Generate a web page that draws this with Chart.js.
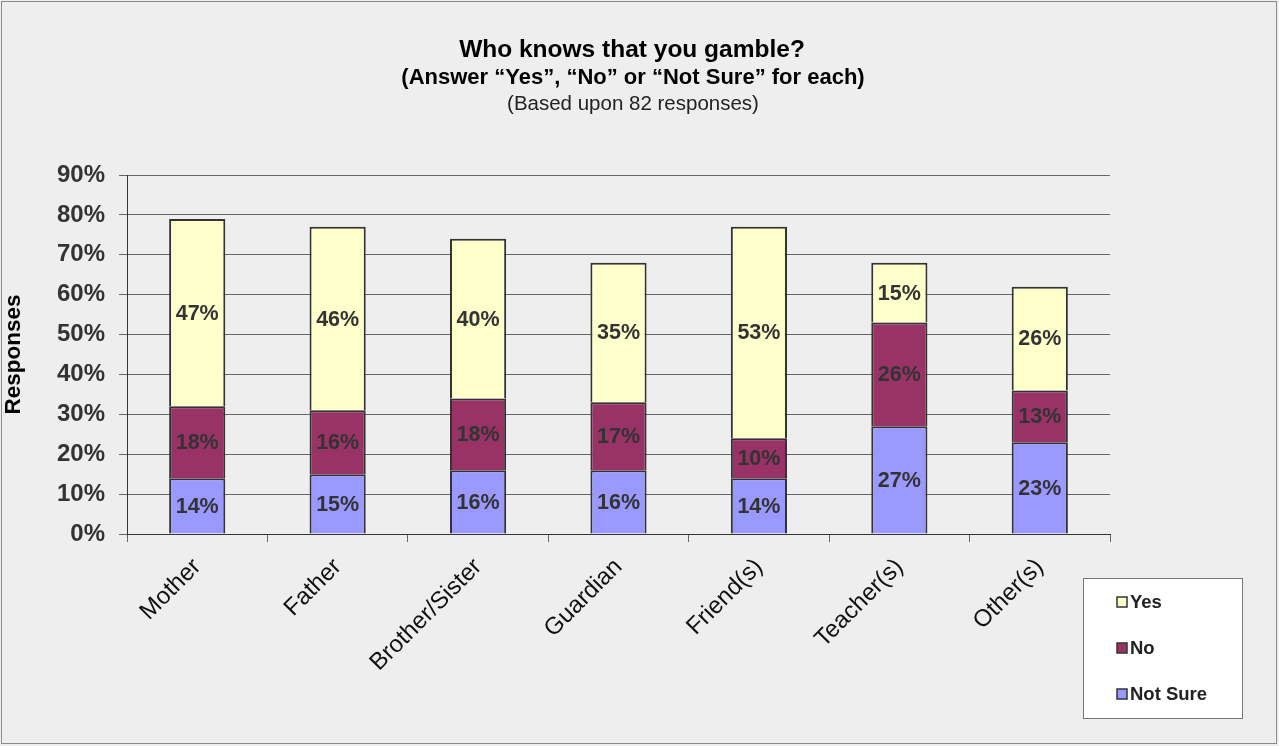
<!DOCTYPE html>
<html>
<head>
<meta charset="utf-8">
<script src="https://cdn.jsdelivr.net/npm/chart.js@4"></script>
<style>
  html, body { margin: 0; padding: 0; background: #eeeeee; }
  #wrap { width: 1279px; height: 746px; position: relative; }
</style>
</head>
<body>
<div id="wrap"><canvas id="chart" width="1279" height="746"></canvas></div>
<script>
// data
const categories = ['Mother', 'Father', 'Brother/Sister', 'Guardian', 'Friend(s)', 'Teacher(s)', 'Other(s)'];
const notSure = [14, 15, 16, 16, 14, 27, 23];
const no      = [18, 16, 18, 17, 10, 26, 13];
const yes     = [47, 46, 40, 35, 53, 15, 26];
const titleLines = ['Who knows that you gamble?', '(Answer \u201cYes\u201d, \u201cNo\u201d or \u201cNot Sure\u201d for each)'];
const subTitle = '(Based upon 82 responses)';

const FONT = '"Liberation Sans", Arial, sans-serif';

// background, frame, titles, bar labels, legend box
const decor = {
  id: 'decor',
  beforeDraw(chart) {
    const c = chart.ctx;
    c.save();
    c.fillStyle = '#eeeeee';
    c.fillRect(0, 0, chart.width, chart.height);
    c.strokeStyle = '#8c8c8c';
    c.lineWidth = 1;
    c.strokeRect(1.5, 1.5, chart.width - 4, chart.height - 4);
    c.restore();
  },
  afterDraw(chart) {
    const c = chart.ctx;
    c.save();
    c.textAlign = 'center';
    c.textBaseline = 'middle';
    c.fillStyle = '#000';
    c.font = 'bold 24.5px ' + FONT;
    c.fillText(titleLines[0], 632, 50);
    c.font = 'bold 22px ' + FONT;
    c.fillText(titleLines[1], 633, 78);
    c.font = '20.5px ' + FONT;
    c.fillStyle = '#222';
    c.fillText(subTitle, 633, 104);

    // value labels centred in each segment
    c.font = 'bold 21.5px ' + FONT;
    c.fillStyle = '#333';
    chart.data.datasets.forEach((ds, i) => {
      chart.getDatasetMeta(i).data.forEach((bar, j) => {
        c.fillText(ds.data[j] + '%', bar.x, (bar.y + bar.base) / 2 + 1);
      });
    });

    // legend
    const lx = 1083, ly = 578, lw = 159, lh = 140;
    c.fillStyle = '#ffffff';
    c.fillRect(lx, ly, lw, lh);
    c.strokeStyle = '#777';
    c.lineWidth = 1;
    c.strokeRect(lx + 0.5, ly + 0.5, lw, lh);
    const order = chart.data.datasets.slice().reverse();
    c.textAlign = 'left';
    c.font = 'bold 18.5px ' + FONT;
    order.forEach((ds, k) => {
      const y = 602 + k * 46;
      c.fillStyle = ds.backgroundColor;
      c.fillRect(1117, y - 5, 10, 10);
      c.strokeStyle = '#333';
      c.lineWidth = 1.5;
      c.strokeRect(1117, y - 5, 10, 10);
      c.fillStyle = '#222';
      c.fillText(ds.label, 1130, y + 1);
    });
    c.restore();
  }
};

new Chart(document.getElementById('chart'), {
  type: 'bar',
  data: {
    labels: categories,
    datasets: [
      { label: 'Not Sure', data: notSure, backgroundColor: '#9999ff' },
      { label: 'No', data: no, backgroundColor: '#993366' },
      { label: 'Yes', data: yes, backgroundColor: '#ffffcc' }
    ]
  },
  options: {
    responsive: false,
    animation: false,
    events: [],
    layout: { padding: { top: 175, right: 169, bottom: 0, left: 0 } },
    datasets: {
      bar: { barPercentage: 0.4, categoryPercentage: 1, borderColor: '#333', borderWidth: 2 }
    },
    plugins: {
      legend: { display: false },
      title: { display: false },
      tooltip: { enabled: false }
    },
    scales: {
      x: {
        stacked: true,
        afterFit(s) { s.height = 212; },
        grid: { offset: true, drawOnChartArea: false, drawTicks: true, tickLength: 8, color: '#666' },
        border: { color: '#333', width: 1 },
        ticks: { autoSkip: false, minRotation: 45, maxRotation: 45, padding: 11, color: '#111', font: { family: FONT, size: 24 } }
      },
      y: {
        stacked: true,
        min: 0,
        max: 90,
        afterFit(s) { s.width = 127; },
        grid: { color: '#666', tickLength: 8 },
        border: { color: '#333', width: 1 },
        ticks: {
          stepSize: 10,
          padding: 14,
          color: '#333',
          font: { family: FONT, size: 24, weight: 'bold' },
          callback: v => v + '%'
        },
        title: { display: true, text: 'Responses', color: '#000', font: { family: FONT, size: 22.5, weight: 'bold' }, padding: 0 }
      }
    }
  },
  plugins: [decor]
});
</script>
</body>
</html>
